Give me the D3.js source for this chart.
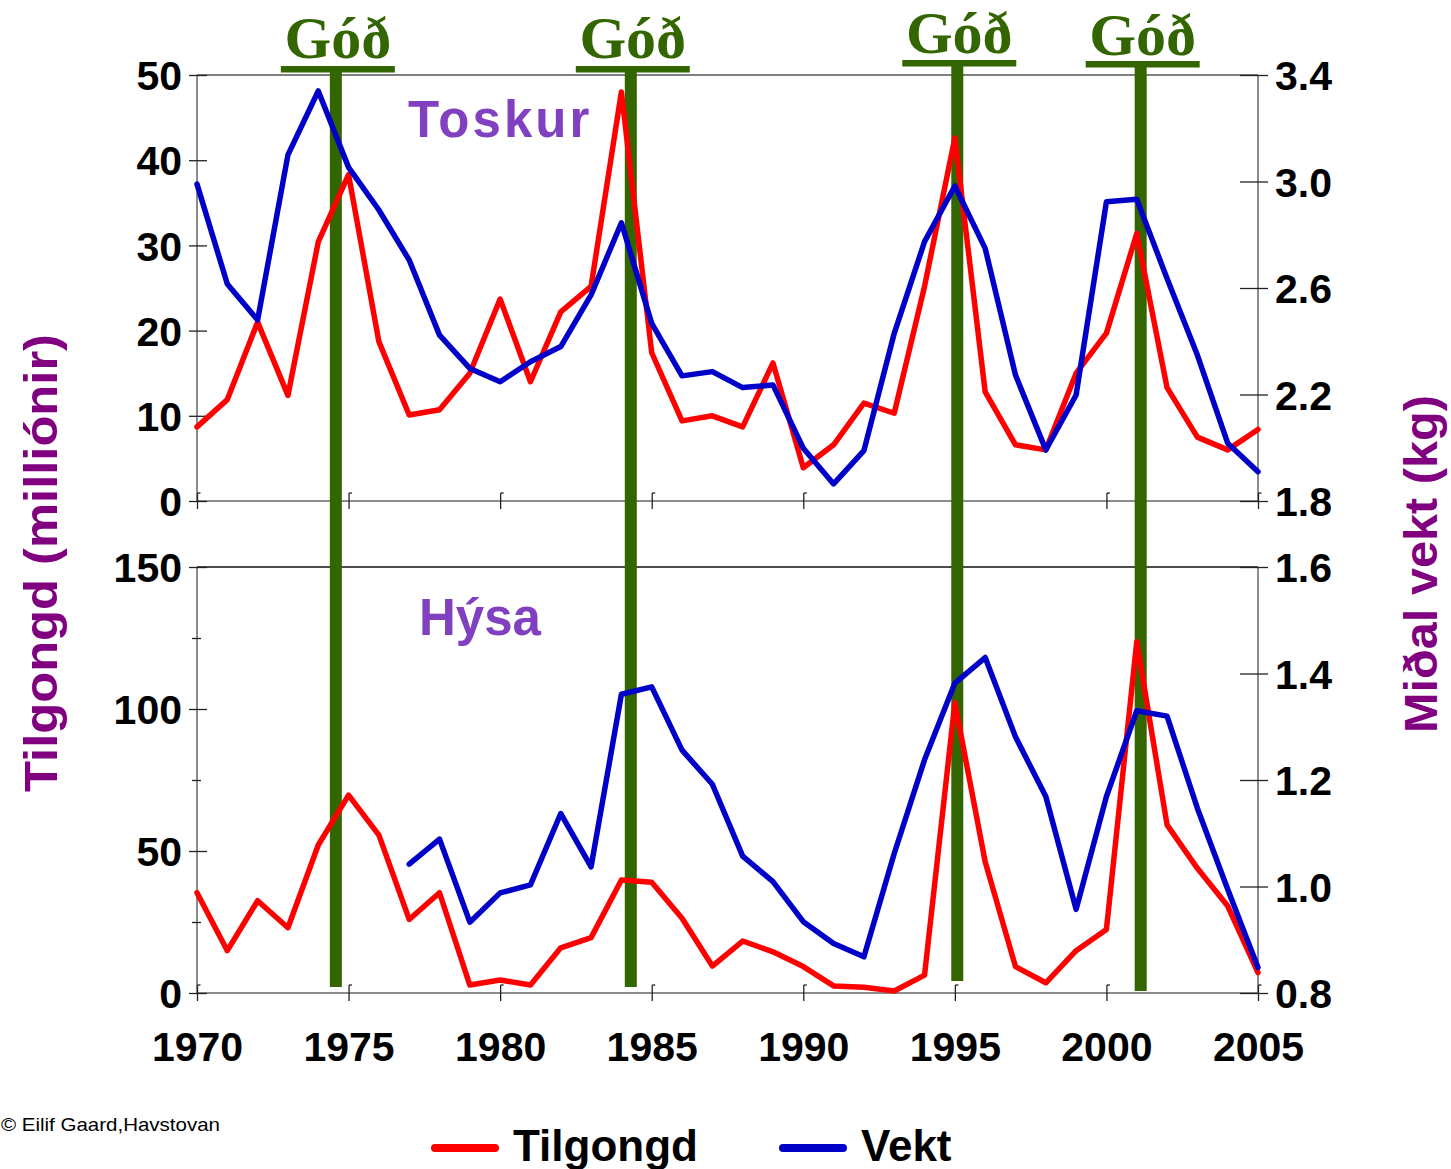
<!DOCTYPE html>
<html>
<head>
<meta charset="utf-8">
<script src="https://cdn.jsdelivr.net/npm/d3@7"></script>
<style>
  body { margin: 0; background: #fff; }
  svg text { font-family: "Liberation Sans", Arial, sans-serif; }
</style>
</head>
<body>
<div id="chart-area"></div>
<script>
// years on the x axis
const years = d3.range(1970, 2006);

// Toskur (cod): recruitment in millions (left) and mean weight in kg (right)
const toskurTilgongd = [8.7, 11.9, 21.0, 12.4, 30.4, 38.3, 18.7, 10.1, 10.7, 15.0,
  23.7, 14.0, 22.2, 25.2, 48.0, 17.4, 9.4, 10.0, 8.7, 16.2,
  3.9, 6.6, 11.5, 10.3, 25.2, 42.6, 12.8, 6.6, 6.0, 15.0,
  19.7, 31.4, 13.3, 7.5, 6.0, 8.4];
const toskurVekt = [2.99, 2.615, 2.48, 3.10, 3.34, 3.053, 2.893, 2.705, 2.423, 2.298,
  2.248, 2.323, 2.38, 2.574, 2.845, 2.467, 2.27, 2.286, 2.226, 2.236,
  1.998, 1.864, 1.989, 2.43, 2.774, 2.983, 2.749, 2.273, 1.992, 2.198,
  2.924, 2.933, 2.636, 2.348, 2.017, 1.91];

// Hýsa (haddock)
const hysaTilgongd = [35.3, 14.9, 32.5, 23.0, 52.1, 69.7, 55.6, 25.9, 35.3, 2.8,
  4.6, 2.8, 15.9, 19.5, 39.8, 39.0, 26.3, 9.5, 18.3, 14.5,
  9.3, 2.5, 2.0, 0.7, 6.3, 102.2, 46.2, 9.3, 3.6, 14.9,
  22.4, 123.7, 59.2, 43.9, 30.6, 7.2];
const hysaVekt = [null, null, null, null, null, null, null, 1.042, 1.089, 0.933,
  0.988, 1.003, 1.137, 1.037, 1.361, 1.375, 1.256, 1.192, 1.057, 1.009,
  0.934, 0.893, 0.868, 1.062, 1.238, 1.382, 1.430, 1.281, 1.169, 0.957,
  1.169, 1.330, 1.320, 1.147, 0.995, 0.848];

// "good year" markers
const godYears = [1974.58, 1984.31, 1995.08, 2001.13];

// tick values
const xTicks = [1970, 1975, 1980, 1985, 1990, 1995, 2000, 2005];
const topLeftTicks = [0, 10, 20, 30, 40, 50];
const topRightTicks = [1.8, 2.2, 2.6, 3.0, 3.4];
const botLeftTicks = [0, 50, 100, 150];
const botLeftMinor = [25, 75, 125];
const botRightTicks = [0.8, 1.0, 1.2, 1.4, 1.6];

const W = 1451, H = 1169;
const left = 197, right = 1258;
const top1 = 75, bot1 = 501, top2 = 567, bot2 = 993;

const svg = d3.select('#chart-area').append('svg')
  .attr('width', W).attr('height', H);

const x = d3.scaleLinear().domain([1970, 2005]).range([left, right]);
const yTL = d3.scaleLinear().domain([0, 50]).range([bot1, top1]);
const yTR = d3.scaleLinear().domain([1.8, 3.4]).range([bot1, top1]);
const yBL = d3.scaleLinear().domain([0, 150]).range([bot2, top2]);
const yBR = d3.scaleLinear().domain([0.8, 1.6]).range([bot2, top2]);

const axisColor = '#666';
const labelFont = 'bold 41px "Liberation Sans", Arial, sans-serif';

// frame lines for each panel
function frame(yTop, yBot, topColor) {
  svg.append('line').attr('x1', left).attr('x2', right).attr('y1', yTop).attr('y2', yTop)
    .attr('stroke', topColor).attr('stroke-width', 1.3);
  svg.append('line').attr('x1', left).attr('x2', right).attr('y1', yBot).attr('y2', yBot)
    .attr('stroke', axisColor).attr('stroke-width', 1.5);
  svg.append('line').attr('x1', left).attr('x2', left).attr('y1', yTop).attr('y2', yBot)
    .attr('stroke', axisColor).attr('stroke-width', 1.5);
  svg.append('line').attr('x1', right).attr('x2', right).attr('y1', yTop).attr('y2', yBot)
    .attr('stroke', axisColor).attr('stroke-width', 1.5);
}
frame(top1, bot1, '#555');
frame(top2, bot2, '#111');

// left axis with ticks crossing the axis line
function leftAxis(scale, ticks, showLabels) {
  const g = svg.append('g').attr('transform', 'translate(' + left + ',0)')
    .call(d3.axisLeft(scale).tickValues(ticks).tickSize(8).tickPadding(7)
      .tickFormat(showLabels ? d3.format('d') : ''));
  g.select('.domain').remove();
  g.selectAll('.tick line').attr('x1', -8).attr('x2', 10).attr('stroke', '#222').attr('stroke-width', 1.3);
  g.selectAll('.tick text').style('font', labelFont).attr('fill', '#000').attr('dy', '0.36em');
  return g;
}
function rightAxis(scale, ticks) {
  const g = svg.append('g').attr('transform', 'translate(' + right + ',0)')
    .call(d3.axisRight(scale).tickValues(ticks).tickSize(10).tickPadding(7)
      .tickFormat(d3.format('.1f')));
  g.select('.domain').remove();
  g.selectAll('.tick line').attr('x1', -18).attr('x2', 10).attr('stroke', '#222').attr('stroke-width', 1.3);
  g.selectAll('.tick text').style('font', labelFont).attr('fill', '#000').attr('dy', '0.36em');
}
leftAxis(yTL, topLeftTicks, true);
rightAxis(yTR, topRightTicks);
leftAxis(yBL, botLeftTicks, true);
const minor = leftAxis(yBL, botLeftMinor, false);
minor.selectAll('.tick line').attr('x1', -5).attr('x2', 4);
rightAxis(yBR, botRightTicks);

// x ticks on both panels, labels only at the bottom
function xTicksAt(yPos, showLabels) {
  const g = svg.append('g').attr('transform', 'translate(0,' + yPos + ')')
    .call(d3.axisBottom(x).tickValues(xTicks).tickSize(8).tickPadding(31)
      .tickFormat(showLabels ? d3.format('d') : ''));
  g.select('.domain').remove();
  g.selectAll('.tick line').attr('y1', -8).attr('y2', 8).attr('stroke', '#222').attr('stroke-width', 1.3);
  g.selectAll('.tick').append('line')
    .attr('x1', 0).attr('x2', 3).attr('y1', -8).attr('y2', -8)
    .attr('stroke', '#222').attr('stroke-width', 1.3);
  g.selectAll('.tick text').style('font', labelFont).attr('fill', '#000');
}
xTicksAt(bot1, false);
xTicksAt(bot2, true);

// panel titles
svg.append('text').attr('x', 408).attr('y', 137)
  .style('font', 'bold 51px "Liberation Sans", Arial, sans-serif')
  .attr('letter-spacing', 3)
  .attr('fill', '#8040c0').text('Toskur');
svg.append('text').attr('x', 419).attr('y', 635)
  .style('font', 'bold 51px "Liberation Sans", Arial, sans-serif')
  .attr('fill', '#8040c0').text('Hýsa');

// axis titles
svg.append('text')
  .attr('transform', 'translate(57,563) rotate(-90)')
  .attr('text-anchor', 'middle')
  .attr('textLength', 458).attr('lengthAdjust', 'spacingAndGlyphs')
  .style('font', 'bold 46px "Liberation Sans", Arial, sans-serif')
  .attr('fill', '#800080').text('Tilgongd (milliónir)');
svg.append('text')
  .attr('transform', 'translate(1437,564) rotate(-90)')
  .attr('text-anchor', 'middle')
  .attr('textLength', 338).attr('lengthAdjust', 'spacingAndGlyphs')
  .style('font', 'bold 46px "Liberation Sans", Arial, sans-serif')
  .attr('fill', '#800080').text('Miðal vekt (kg)');

// good-year bars and labels
const godGreen = '#336600';
const godBottom = [987, 987, 981, 991];
const godTextY = [58, 58, 53, 55];
const godLineY = [66, 66, 60, 61];
godYears.forEach((yr, i) => {
  const cx = x(yr);
  svg.append('rect').attr('x', cx - 6).attr('width', 12)
    .attr('y', godLineY[i]).attr('height', godBottom[i] - godLineY[i])
    .attr('fill', godGreen);
  svg.append('rect').attr('x', cx - 55).attr('width', 114)
    .attr('y', godLineY[i]).attr('height', 6.5).attr('fill', godGreen);
  svg.append('text').attr('x', cx + 2).attr('y', godTextY[i])
    .attr('text-anchor', 'middle')
    .style('font', 'bold 60px "Liberation Serif", "Times New Roman", serif')
    .attr('fill', godGreen).text('Góð');
});

// series lines
function series(values, yScale, color) {
  const line = d3.line()
    .defined(d => d != null)
    .x((d, i) => x(years[i]))
    .y(d => yScale(d));
  svg.append('path').datum(values)
    .attr('d', line)
    .attr('fill', 'none')
    .attr('stroke', color)
    .attr('stroke-width', 5.5)
    .attr('stroke-linejoin', 'round')
    .attr('stroke-linecap', 'round');
}
const red = '#ff0000', blue = '#0000c8';
series(toskurTilgongd, yTL, red);
series(toskurVekt, yTR, blue);
series(hysaTilgongd, yBL, red);
series(hysaVekt, yBR, blue);

// legend
const legend = [{ name: 'Tilgongd', color: red, x: 435 }, { name: 'Vekt', color: blue, x: 783 }];
legend.forEach(d => {
  svg.append('line').attr('x1', d.x).attr('x2', d.x + 60).attr('y1', 1148).attr('y2', 1148)
    .attr('stroke', d.color).attr('stroke-width', 8).attr('stroke-linecap', 'round');
  svg.append('text').attr('x', d.x + 78).attr('y', 1161)
    .style('font', 'bold 44px "Liberation Sans", Arial, sans-serif')
    .attr('fill', '#000').text(d.name);
});

// credit
svg.append('text').attr('x', 1).attr('y', 1131)
  .attr('textLength', 219).attr('lengthAdjust', 'spacingAndGlyphs')
  .style('font', '19px "Liberation Sans", Arial, sans-serif')
  .attr('fill', '#000').text('© Eilif Gaard,Havstovan');
</script>
</body>
</html>
